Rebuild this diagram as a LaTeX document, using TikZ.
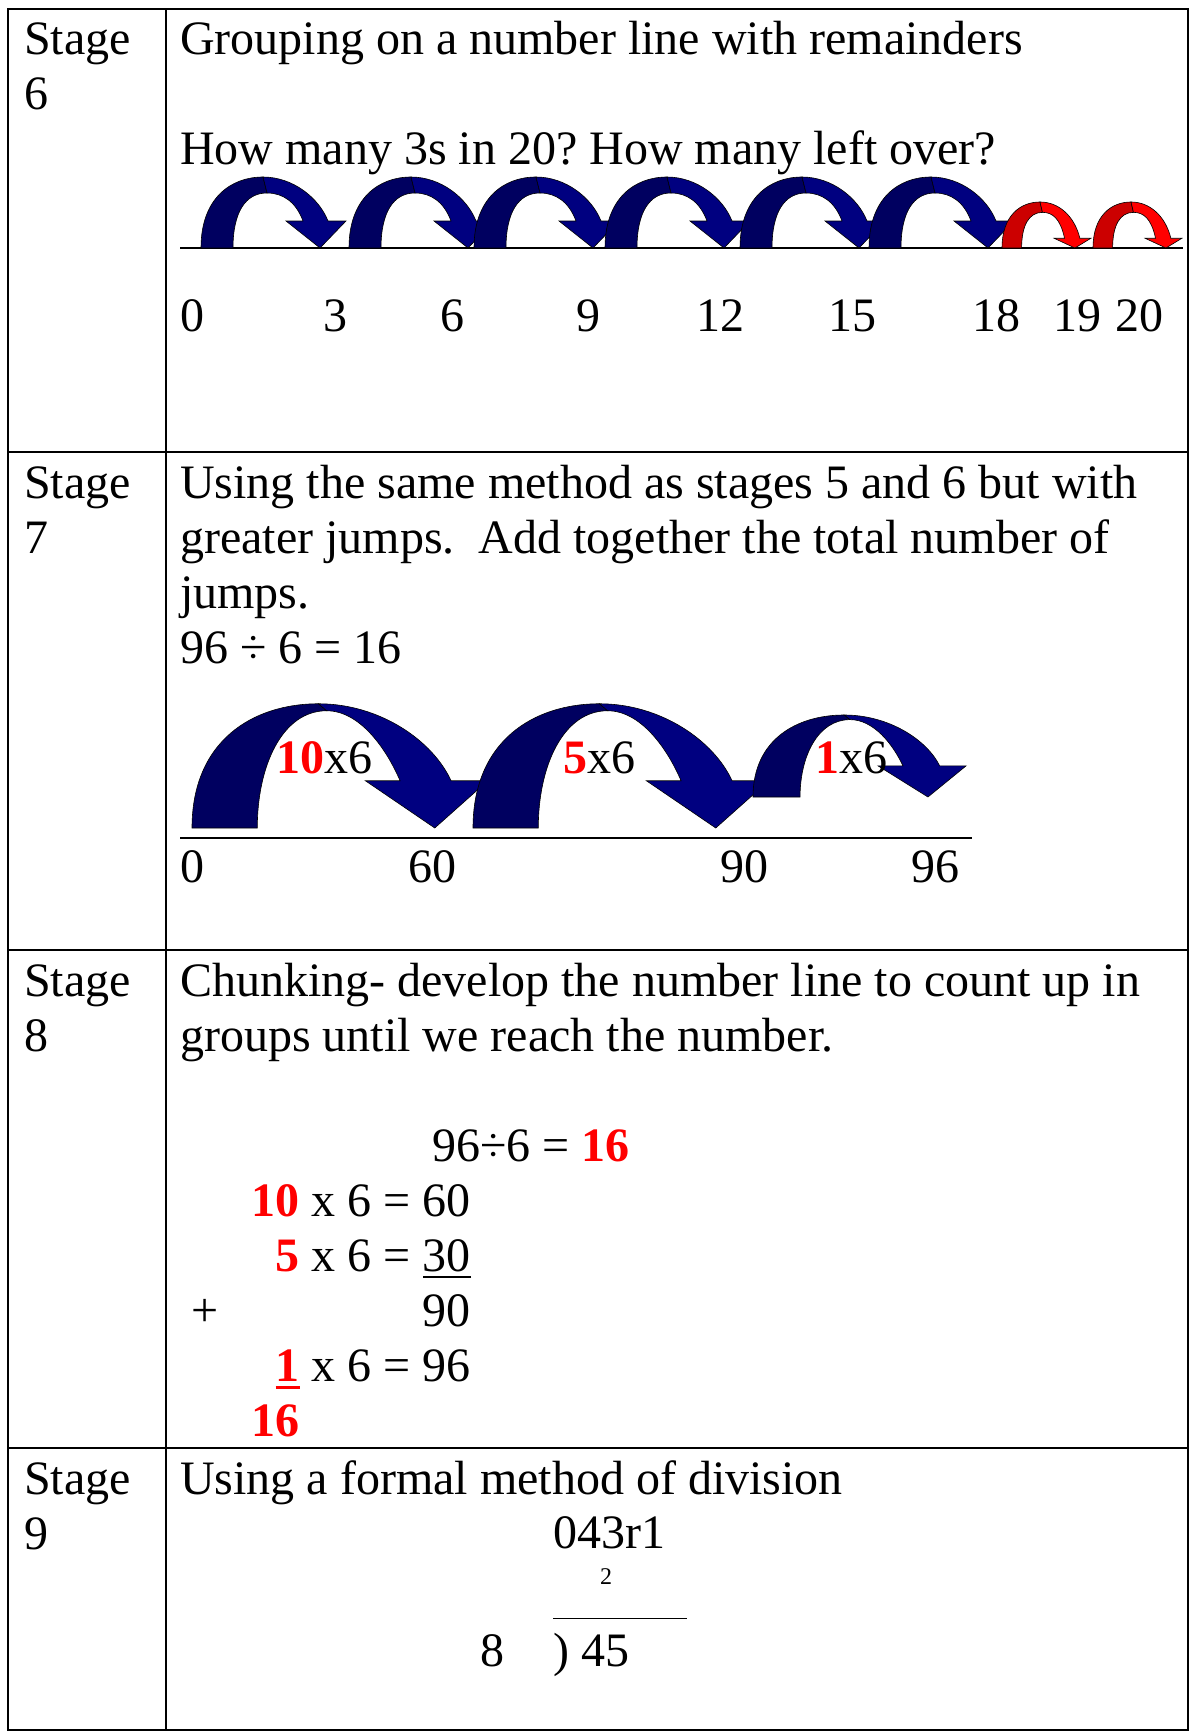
\documentclass[tikz,border=0pt]{standalone}
\usepackage{fontspec}
\setmainfont{Liberation Serif}
\definecolor{jumpblue}{RGB}{0,0,128}
\definecolor{jumpbluedark}{RGB}{0,0,96}
\definecolor{jumpred}{RGB}{255,0,0}
\definecolor{jumpreddark}{RGB}{204,0,0}
\frenchspacing
\tikzset{
	jump top/.store in=\jumptop, jump top=-55,
	jump head/.store in=\jumphead, jump head=-27,
	jump/.pic={
		\filldraw[#1dark, draw=black, line width=0.6pt] (0,0) .. controls (0,-50) and (30,-71) .. (62,-71) -- (66,\jumptop) .. controls (44,\jumptop) and (32,-35) .. (32,0) -- cycle;
		\filldraw[#1, draw=black, line width=0.6pt] (62,-71) .. controls (92,-71) and (118,-50) .. (127,\jumphead) -- (145,\jumphead) -- (119,0) -- (85,\jumphead) -- (102,\jumphead) .. controls (95,-46) and (82,\jumptop) .. (66,\jumptop) -- cycle;
	}
}
\begin{document}
\begin{tikzpicture}[x=1pt, y=-1pt,
	every node/.style={ inner sep=0pt, font=\fontsize{48}{55}\selectfont },
	txt/.style={ anchor=base west },
	num/.style={ anchor=base },
	rtxt/.style={ anchor=base east },
	grid/.style={ line width=1.5pt },
	axis/.style={ line width=1.3pt }
]
\useasboundingbox (0,0) rectangle (1191,1731);

% table
\draw[grid] (8,9) rectangle (1188,1730);
\draw[grid] (166,9) -- (166,1730);
\foreach \y in {452,950,1448} \draw[grid] (8,\y) -- (1188,\y);
\foreach \s/\y in {6/55,7/498,8/996,9/1494} {
	\node[txt] (stage\s) at (24,\y) {Stage};
	\node[txt] (stagenum\s) at (24,\y+55) {\s};
}

% stage 6
\node[txt] (title6) at (180,55) {Grouping on a number line with remainders};
\node[txt] (ask6) at (180,165) {How many 3s in 20? How many left over?};
\coordinate (axis6l) at (180,248);
\coordinate (axis6r) at (1183,248);
\draw[axis] (axis6l) -- (axis6r);
\foreach \x in {201,349,474,605,740,869} \pic at (\x,248) {jump=jumpblue};
\foreach \x in {1002,1093} \pic[xscale=0.613, yscale=0.648, jump head=-15] at (\x,248) {jump=jumpred};
\foreach \n/\x in {0/192,3/335,6/452,9/588,12/720,15/852,18/996,19/1077,20/1139}
	\node[num] (tick6-\n) at (\x,331) {\n};

% stage 7
\node[txt] (intro7a) at (180,498) {Using the same method as stages 5 and 6 but with};
\node[txt] (intro7b) at (180,553) {greater jumps.\ \ Add together the total number of};
\node[txt] (intro7c) at (180,608) {jumps.};
\node[txt] (sum7) at (180,663) {96 ÷ 6 = 16};
\foreach \x/\y/\sx/\sy in {192/828/2.04/1.75, 473/828/2.04/1.75, 753/797/1.47/1.155}
	\pic[xscale=\sx, yscale=\sy, jump top=-67] at (\x,\y) {jump=jumpblue};
\node[txt] (jump10) at (276,773) {\textcolor{red}{\bfseries 10}x6};
\node[txt] (jump5) at (563,773) {\textcolor{red}{\bfseries 5}x6};
\node[txt] (jump1) at (815,773) {\textcolor{red}{\bfseries 1}x6};
\coordinate (axis7l) at (180,838);
\coordinate (axis7r) at (972,838);
\draw[axis] (axis7l) -- (axis7r);
\foreach \n/\x in {0/192,60/432,90/744,96/935}
	\node[num] (tick7-\n) at (\x,882) {\n};

% stage 8
\node[txt] (intro8a) at (180,996) {Chunking- develop the number line to count up in};
\node[txt] (intro8b) at (180,1051) {groups until we reach the number.};
\node[txt] (sum8) at (432,1161) {96÷6 = \textcolor{red}{\bfseries 16}};
\node[rtxt] (row10) at (471,1216) {\textcolor{red}{\bfseries 10} x 6 = 60};
\node[rtxt] (row5) at (471,1271) {\textcolor{red}{\bfseries 5} x 6 = 30};
\draw[line width=2.7pt] ([yshift=-6pt]row5.base east) -- ++(-48,0);
\node[txt] (plus8) at (191,1326) {+};
\node[rtxt] (total90) at (471,1326) {90};
\node[rtxt] (row1) at (471,1381) {\textcolor{red}{\bfseries 1} x 6 = 96};
\draw[red, line width=3pt] ([yshift=-6pt]row1.base west) -- ++(24,0);
\node[rtxt, text=red, font=\fontsize{48}{55}\selectfont\bfseries] (answer16) at (300,1436) {16};

% stage 9
\node[txt] (intro9) at (180,1494) {Using a formal method of division};
\node[txt] (quot9) at (553,1548) {043r1};
\node[num, font=\fontsize{24}{28}\selectfont] (carry9) at (606,1584) {2};
\coordinate (bar9l) at (553,1618);
\coordinate (bar9r) at (687,1618);
\draw[line width=1pt] (bar9l) -- (bar9r);
\node[txt] (divisor9) at (480,1666) {8};
\node[txt] (dividend9) at (553,1666) {) 45};

\end{tikzpicture}
\end{document}
